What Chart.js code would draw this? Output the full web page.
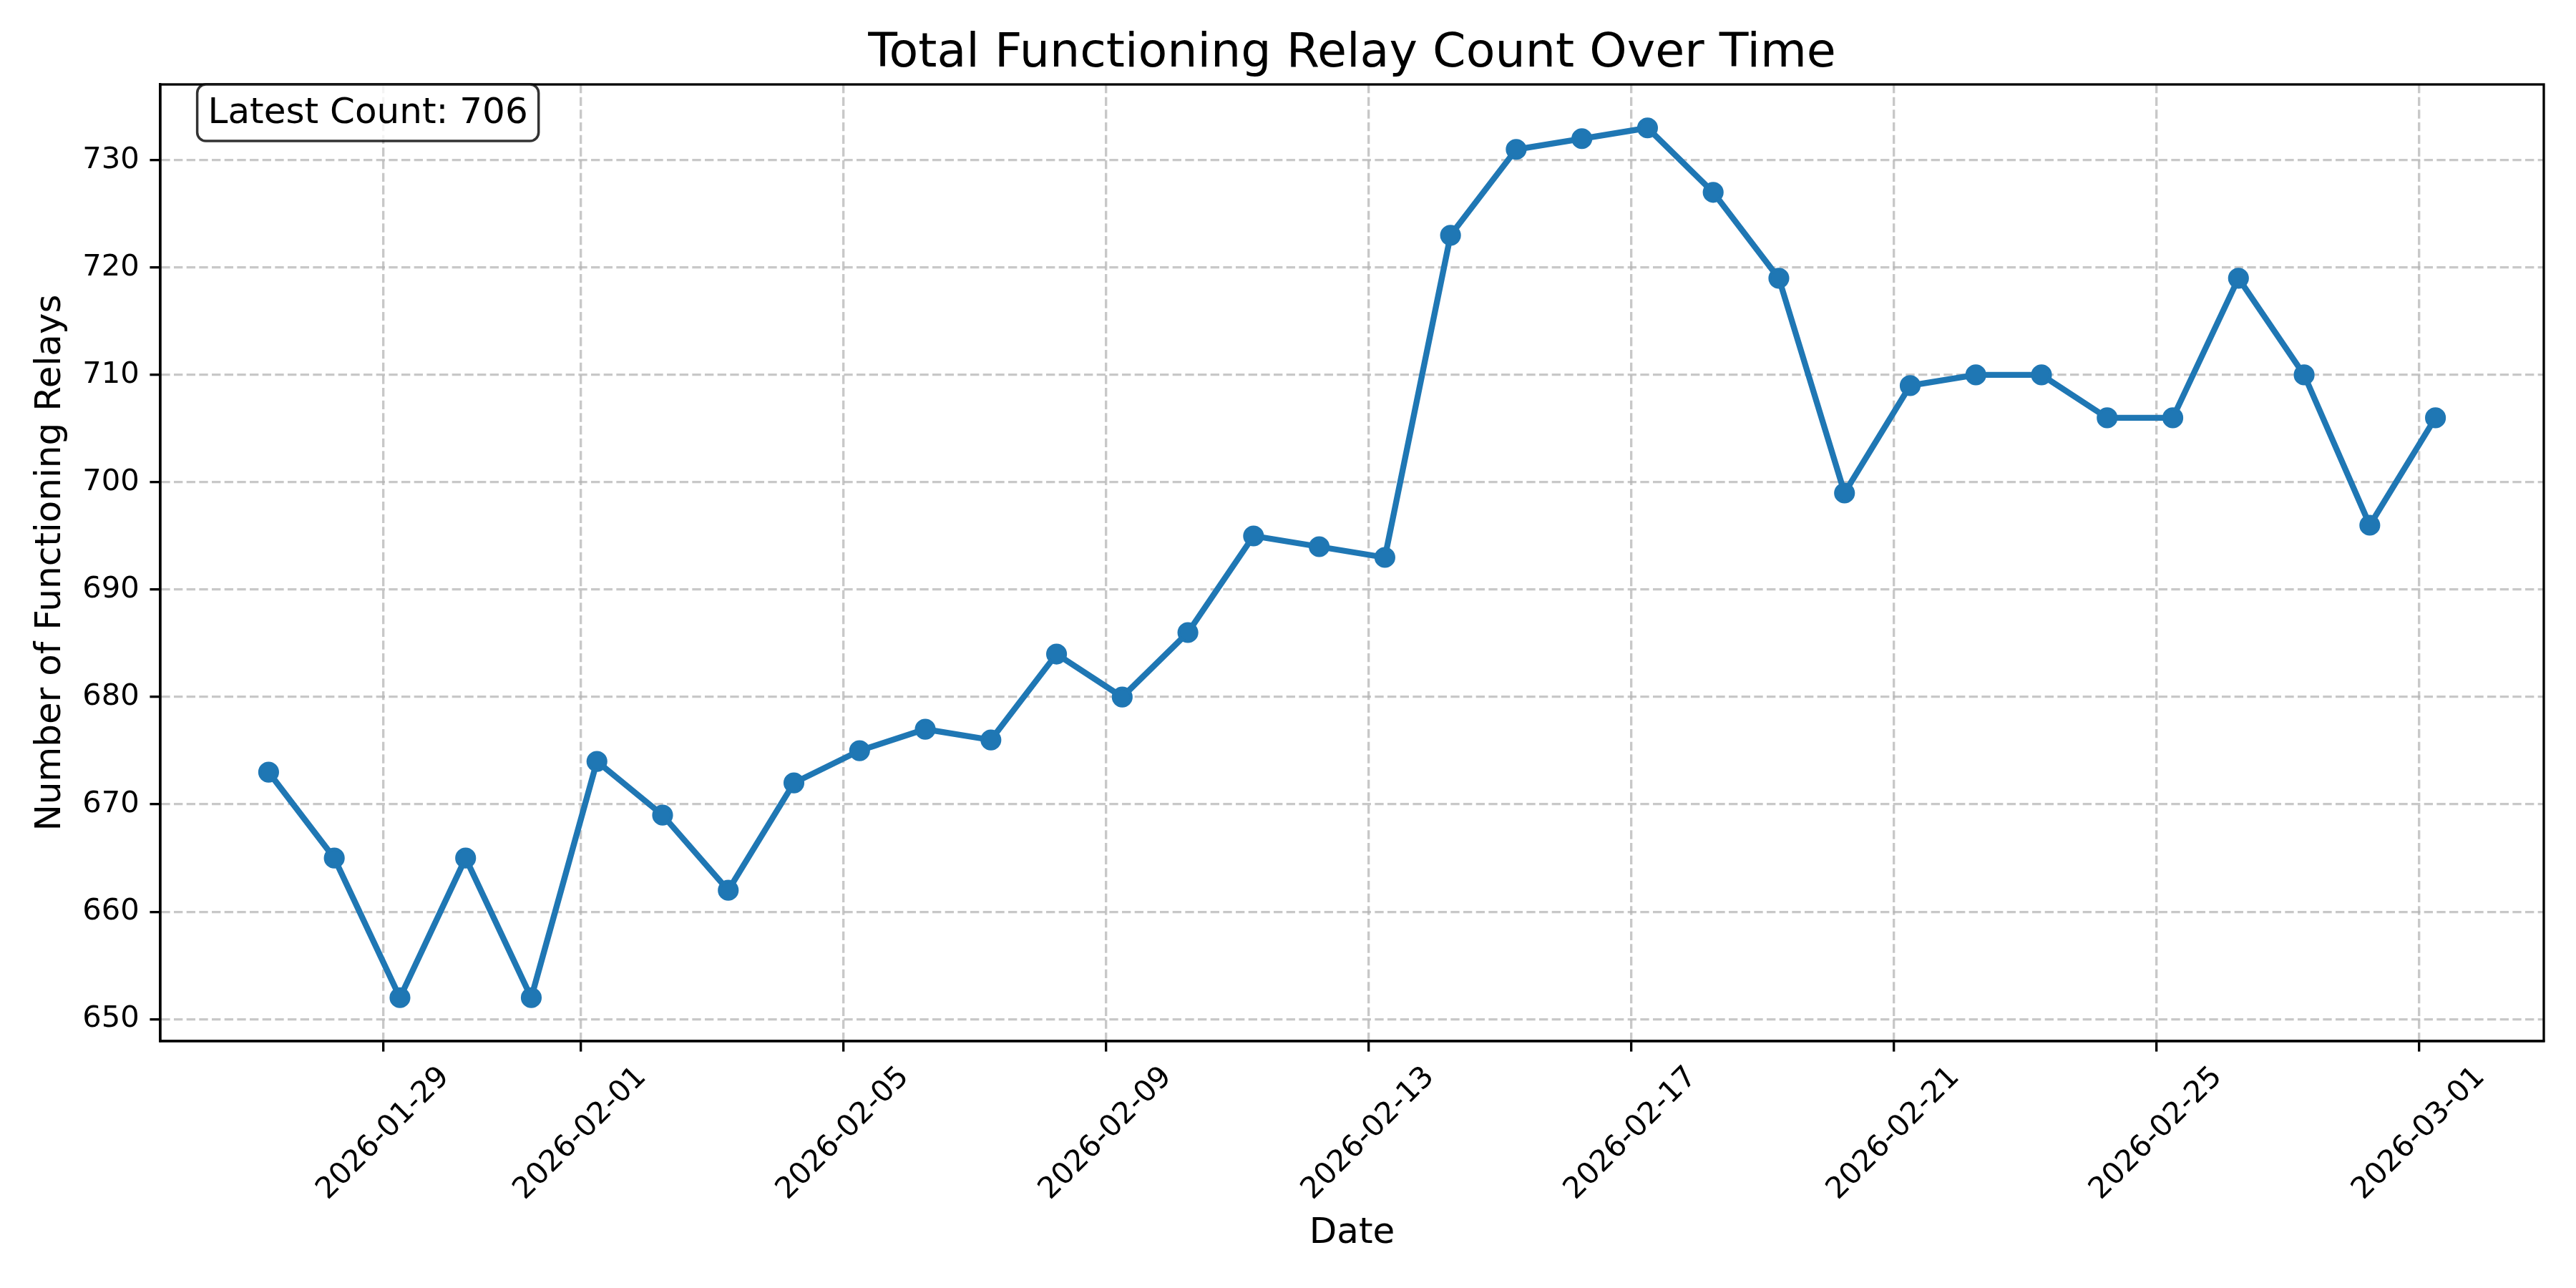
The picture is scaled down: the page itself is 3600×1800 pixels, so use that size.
<!DOCTYPE html>
<html>
<head>
<meta charset="utf-8">
<title>Total Functioning Relay Count Over Time</title>
<script src="https://cdn.jsdelivr.net/npm/chart.js@4.4.1/dist/chart.umd.min.js"></script>
<style>
    html, body { margin: 0; padding: 0; background: #ffffff; }
    #wrap { width: 3600px; height: 1800px; position: relative; }
</style>
</head>
<body>
<div id="wrap"><canvas id="relayChart"></canvas></div>
<script>
/*  Relay count chart  */

/* ====== DATA ====== */
var sampleTimes = [
    "2026-01-27 06:00", "2026-01-28 06:00", "2026-01-29 06:00", "2026-01-30 06:00",
    "2026-01-31 06:00", "2026-02-01 06:00", "2026-02-02 06:00", "2026-02-03 06:00",
    "2026-02-04 06:00", "2026-02-05 06:00", "2026-02-06 06:00", "2026-02-07 06:00",
    "2026-02-08 06:00", "2026-02-09 06:00", "2026-02-10 06:00", "2026-02-11 06:00",
    "2026-02-12 06:00", "2026-02-13 06:00", "2026-02-14 06:00", "2026-02-15 06:00",
    "2026-02-16 06:00", "2026-02-17 06:00", "2026-02-18 06:00", "2026-02-19 06:00",
    "2026-02-20 06:00", "2026-02-21 06:00", "2026-02-22 06:00", "2026-02-23 06:00",
    "2026-02-24 06:00", "2026-02-25 06:00", "2026-02-26 06:00", "2026-02-27 06:00",
    "2026-02-28 06:00", "2026-03-01 06:00"
];
var relayCounts = [
    673, 665, 652, 665, 652, 674, 669, 662, 672, 675, 677, 676, 684, 680, 686, 695, 694,
    693, 723, 731, 732, 733, 727, 719, 699, 709, 710, 710, 706, 706, 719, 710, 696, 706
];
var xTickDates = [
    "2026-01-29", "2026-02-01", "2026-02-05", "2026-02-09", "2026-02-13",
    "2026-02-17", "2026-02-21", "2026-02-25", "2026-03-01"
];
var yTickValues = [650, 660, 670, 680, 690, 700, 710, 720, 730];

var TITLE = "Total Functioning Relay Count Over Time";
var X_LABEL = "Date";
var Y_LABEL = "Number of Functioning Relays";

/* ====== HELPERS ====== */
// "YYYY-MM-DD[ HH:MM]" -> days since epoch (UTC)
function dayNum(s) {
    var p = s.split(" ");
    var d = p[0].split("-");
    var t = (p[1] || "00:00").split(":");
    return Date.UTC(+d[0], +d[1] - 1, +d[2], +t[0], +t[1]) / 86400000;
}

var points = sampleTimes.map(function (s, i) {
    return { x: dayNum(s), y: relayCounts[i] };
});

// matplotlib-style 5% margins
var xs = points.map(function (p) { return p.x; });
var xMinD = Math.min.apply(null, xs), xMaxD = Math.max.apply(null, xs);
var yMinD = Math.min.apply(null, relayCounts), yMaxD = Math.max.apply(null, relayCounts);
var xPad = (xMaxD - xMinD) * 0.05, yPad = (yMaxD - yMinD) * 0.05;

var FONT = "'DejaVu Sans', sans-serif";
var PT = 300 / 72;   // px per point at 300 dpi

/* ====== DECOR PLUGIN ====== */
var decor = {
    id: "decor",
    beforeDraw: function (chart) {
        var ctx = chart.ctx;
        ctx.save();
        ctx.fillStyle = "#ffffff";
        ctx.fillRect(0, 0, chart.width, chart.height);
        ctx.restore();
    },
    afterDatasetsDraw: function (chart) {
        var ctx = chart.ctx;
        var a = chart.chartArea;
        var xs = chart.scales.x;
        ctx.save();

        // frame
        ctx.strokeStyle = "#000000";
        ctx.lineWidth = 0.8 * PT;
        ctx.setLineDash([]);
        ctx.strokeRect(a.left, a.top, a.right - a.left, a.bottom - a.top);

        // x tick labels, rotated 45 deg, centred under tick
        var fs = 10 * PT;
        ctx.font = fs + "px " + FONT;
        ctx.fillStyle = "#000000";
        var top = a.bottom + 3.5 * PT + 3.5 * PT;
        xTickDates.forEach(function (s) {
            var px = xs.getPixelForValue(dayNum(s));
            var m = ctx.measureText(s);
            var asc = fs * 0.76, desc = fs * 0.24;
            var h = asc + desc;
            var H = (m.width + h) * Math.SQRT1_2;
            ctx.save();
            ctx.translate(px, top + H / 2);
            ctx.rotate(-Math.PI / 4);
            ctx.textAlign = "center";
            ctx.textBaseline = "alphabetic";
            ctx.fillText(s, 0, (asc - desc) / 2);
            ctx.restore();
        });

        // title
        ctx.font = (16 * PT) + "px " + FONT;
        ctx.textAlign = "center";
        ctx.textBaseline = "alphabetic";
        ctx.fillText(TITLE, (a.left + a.right) / 2, a.top - 6 * PT);

        // latest count box
        var label = "Latest Count: " + relayCounts[relayCounts.length - 1];
        var afs = 12 * PT;
        ctx.font = afs + "px " + FONT;
        var tw = ctx.measureText(label).width;
        var tx = a.left + 0.02 * (a.right - a.left);
        var base = a.top + 54;
        var pad = 0.3 * afs;
        var bx = tx - pad, by = a.top, bw = tw + 2 * pad, bh = 79;
        ctx.beginPath();
        ctx.roundRect(bx, by, bw, bh, 12);
        ctx.fillStyle = "rgba(255,255,255,0.8)";
        ctx.fill();
        ctx.lineWidth = 3.5;
        ctx.strokeStyle = "rgba(0,0,0,0.8)";
        ctx.stroke();
        ctx.fillStyle = "#000000";
        ctx.textAlign = "left";
        ctx.fillText(label, tx, base);

        ctx.restore();
    }
};

/* ====== CHART ====== */
var gridOpts = {
    color: "rgba(176,176,176,0.7)",
    lineWidth: 0.8 * PT,
    drawTicks: true,
    tickLength: 3.5 * PT,
    tickColor: "#000000",
    tickWidth: 0.8 * PT,
    tickBorderDash: []
};
// in Chart.js v4 the grid line dash lives under border.dash
var borderOpts = {
    display: true,
    color: "#000000",
    width: 0.8 * PT,
    dash: [2.96 * PT, 1.28 * PT]
};

var ctx = document.getElementById("relayChart").getContext("2d");
var chart = new Chart(ctx, {
    type: "line",
    data: {
        datasets: [{
            label: "Relays",
            data: points,
            borderColor: "#1f77b4",
            backgroundColor: "#1f77b4",
            borderWidth: 2 * PT,
            pointRadius: 3 * PT,
            pointBorderWidth: 1 * PT,
            pointBackgroundColor: "#1f77b4",
            pointBorderColor: "#1f77b4",
            tension: 0,
            fill: false
        }]
    },
    options: {
        responsive: true,
        maintainAspectRatio: false,
        devicePixelRatio: 1,
        animation: false,
        layout: { padding: { left: 0, right: 45, top: 118, bottom: 0 } },
        plugins: {
            legend: { display: false },
            tooltip: { enabled: false },
            title: { display: false }
        },
        scales: {
            x: {
                type: "linear",
                min: xMinD - xPad,
                max: xMaxD + xPad,
                afterBuildTicks: function (s) {
                    s.ticks = xTickDates.map(function (d) { return { value: dayNum(d) }; });
                },
                afterFit: function (s) { s.height = 345; },
                ticks: { display: false },
                grid: gridOpts,
                border: borderOpts,
                title: {
                    display: true,
                    text: X_LABEL,
                    color: "#000000",
                    font: { family: FONT, size: 12 * PT },
                    padding: { top: 0, bottom: 46 }
                }
            },
            y: {
                type: "linear",
                min: yMinD - yPad,
                max: yMaxD + yPad,
                afterBuildTicks: function (s) {
                    s.ticks = yTickValues.map(function (v) { return { value: v }; });
                },
                afterFit: function (s) { s.width = 224; },
                ticks: {
                    color: "#000000",
                    font: { family: FONT, size: 10 * PT },
                    padding: 3.5 * PT
                },
                grid: gridOpts,
                border: borderOpts,
                title: {
                    display: true,
                    text: Y_LABEL,
                    color: "#000000",
                    font: { family: FONT, size: 12 * PT },
                    padding: { top: 41, bottom: 0 }
                }
            }
        }
    },
    plugins: [decor]
});
</script>
</body>
</html>
